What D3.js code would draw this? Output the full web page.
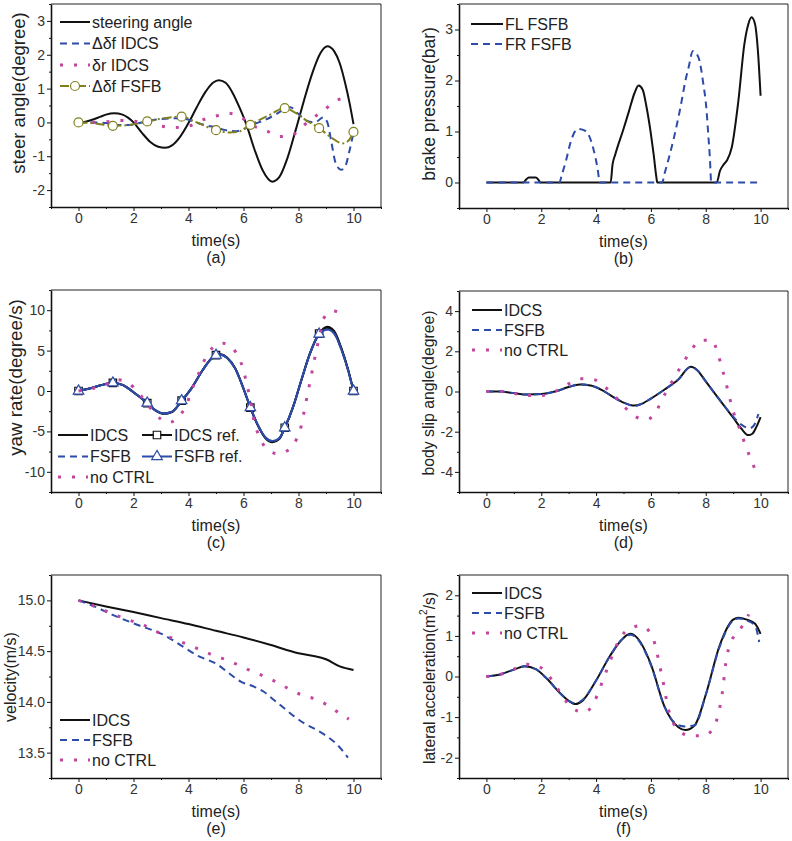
<!DOCTYPE html>
<html><head><meta charset="utf-8">
<script src="https://cdn.jsdelivr.net/npm/d3@7"></script>
<style>body{margin:0;background:#fff;} svg{display:block;font-family:"Liberation Sans",Arial,sans-serif;}</style>
</head><body><svg id="chart" width="792" height="841"></svg>
<script>
// ---------- shared ticks ----------
const xMajorTicks = [0, 2, 4, 6, 8, 10];
const xMinorTicks = [-1, 1, 3, 5, 7, 9, 11];

// ---------- (a) steer angle ----------
const steerT = [0.15,0.5,0.8,1.0,1.3,1.6,1.8,2.0,2.3,2.6,2.9,3.15,3.4,3.7,4.0,4.3,4.6,4.9,5.1,5.35,5.6,5.85,6.1,6.4,6.7,7.05,7.3,7.6,7.9,8.2,8.5,8.8,9.05,9.3,9.5,9.7,9.85,10.0];
const steerAngle = [0,0.08,0.17,0.23,0.27,0.23,0.14,0.0,-0.3,-0.57,-0.72,-0.75,-0.68,-0.42,-0.02,0.45,0.88,1.18,1.25,1.17,0.88,0.45,-0.05,-0.8,-1.42,-1.75,-1.62,-1.05,-0.22,0.65,1.45,2.05,2.25,2.1,1.75,1.15,0.6,-0.05];
const dfIdcsT = [0,0.5,1.0,1.3,1.7,2.0,2.3,2.7,3.0,3.5,3.9,4.2,4.6,5.0,5.3,5.7,6.0,6.4,6.8,7.2,7.5,7.7,8.0,8.3,8.6,8.9,9.05,9.2,9.35,9.55,9.7,9.85,10.0];
const dfIdcs = [0,0,-0.02,-0.08,-0.08,-0.06,0.0,0.07,0.1,0.12,0.1,0.02,-0.08,-0.15,-0.22,-0.26,-0.2,-0.05,0.08,0.25,0.4,0.45,0.25,0.05,0.0,0.15,0.0,-0.6,-1.2,-1.4,-1.3,-0.85,-0.3];
const drIdcsT = [0,0.5,1.0,1.5,2.0,2.5,3.0,3.5,4.0,4.5,5.0,5.45,5.9,6.3,6.8,7.3,7.75,8.1,8.5,8.9,9.3,9.7];
const drIdcs = [0,0,0.02,0.06,0.04,-0.02,-0.11,-0.15,-0.11,0.07,0.19,0.27,0.15,-0.08,-0.23,-0.42,-0.38,-0.15,0.12,0.34,0.61,0.74];
const dfFsfbT = [0,0.6,1.25,1.8,2.5,3.1,3.75,4.3,5.0,5.5,5.8,6.25,6.9,7.5,7.9,8.3,8.75,9.2,9.6,9.8,10.0];
const dfFsfb = [0,-0.03,-0.1,-0.08,0.03,0.12,0.17,0.0,-0.23,-0.3,-0.28,-0.07,0.2,0.42,0.28,0.05,-0.17,-0.45,-0.62,-0.55,-0.28];
const markerT = [0,1.25,2.5,3.75,5,6.25,7.5,8.75,10];

// ---------- (b) brake pressure ----------
const flT = [0,1.35,1.45,1.55,1.8,1.9,1.97,4.53,4.6,4.7,5.0,5.2,5.4,5.55,5.7,5.85,6.0,6.1,6.2,6.23,8.4,8.52,8.65,8.77,8.95,9.19,9.41,9.55,9.67,9.8,9.9,10.0];
const flFsfb = [0,0,0.06,0.1,0.1,0.05,0,0,0.35,0.55,1.05,1.4,1.75,1.9,1.82,1.45,0.95,0.55,0.1,0,0,0.23,0.35,0.43,0.69,1.6,2.72,3.1,3.24,3.1,2.6,1.7];
const frT = [0,2.66,2.75,2.9,3.07,3.33,3.62,3.92,4.05,4.14,6.41,6.5,6.66,6.84,7.08,7.26,7.38,7.53,7.73,7.91,8.03,8.09,8.15,8.2,10];
const frFsfb = [0,0,0.15,0.42,0.79,1.05,1.01,0.62,0.29,0,0,0.18,0.49,0.88,1.48,2.0,2.27,2.58,2.46,1.94,1.41,0.95,0.49,0,0];

// ---------- (c) yaw rate ----------
const yawT = [0,0.4,0.8,1.25,1.6,2.0,2.5,2.8,3.1,3.4,3.75,4.1,4.5,4.8,5.0,5.15,5.4,5.7,6.0,6.25,6.5,6.8,7.05,7.3,7.5,7.8,8.1,8.4,8.75,9.05,9.3,9.55,9.8,10];
const yawIdcs = [0,0.3,0.7,1.0,0.75,-0.15,-1.5,-2.4,-2.82,-2.6,-1.25,0.3,2.5,3.9,4.45,4.55,4.15,2.8,0.3,-2.05,-4.1,-5.85,-6.35,-5.95,-4.6,-2.0,1.3,4.5,7.1,7.95,7.4,5.4,2.7,0];
const yawFsfb = [0,0.3,0.7,1.0,0.75,-0.15,-1.5,-2.4,-2.78,-2.58,-1.25,0.3,2.5,3.9,4.43,4.5,4.1,2.75,0.3,-2.05,-4.05,-5.75,-6.2,-5.85,-4.55,-2.0,1.3,4.45,7.0,7.6,7.1,5.2,2.6,0];
const yawRefIdcs = [0,0.3,0.7,1.0,0.75,-0.15,-1.5,-2.4,-2.8,-2.58,-1.2,0.3,2.5,3.9,4.43,4.52,4.12,2.78,0.3,-2.05,-4.08,-5.8,-6.28,-5.9,-4.55,-2.0,1.3,4.5,7.1,7.8,7.25,5.3,2.65,0];
const yawRefFsfb = [0,0.3,0.7,1.0,0.75,-0.15,-1.5,-2.4,-2.78,-2.56,-1.2,0.3,2.5,3.9,4.43,4.48,4.08,2.74,0.3,-2.05,-4.05,-5.75,-6.2,-5.85,-4.55,-2.0,1.3,4.45,7.05,7.6,7.1,5.2,2.6,0];
const yawNoT = [0,0.5,1.0,1.4,1.83,2.17,2.5,2.8,3.28,3.66,3.94,4.1,4.3,4.48,4.7,5.03,5.25,5.44,5.8,5.98,6.1,6.21,6.3,6.4,6.55,6.77,7.24,7.61,7.94,8.1,8.2,8.3,8.4,8.5,8.6,8.7,8.8,8.9,9.25,9.75];
const yawNoCtrl = [0,0.3,0.85,1.4,0.95,-0.2,-1.6,-2.87,-3.9,-3.1,-1.6,0,1.56,3.08,4.56,5.75,5.9,5.75,4.3,2.8,1.15,-0.5,-2.1,-4.0,-5.4,-6.86,-7.76,-7.35,-5.87,-4.3,-2.6,-0.9,0.8,2.5,4.2,5.8,7.4,8.9,9.9,9.3];

// ---------- (d) body slip angle ----------
const slipT = [0,0.5,1.0,1.5,2.0,2.5,3.0,3.4,3.8,4.2,4.6,5.0,5.4,5.6,6.0,6.5,7.0,7.45,7.7,8.0,8.5,9.0,9.3,9.55,9.7,9.85,10];
const slipIdcs = [0,0.0,-0.08,-0.15,-0.13,0.0,0.22,0.35,0.3,0.08,-0.25,-0.55,-0.7,-0.65,-0.35,0.1,0.6,1.23,1.05,0.5,-0.4,-1.3,-1.85,-2.17,-2.1,-1.75,-1.27];
const slipFsfbT = [0,0.5,1.0,1.5,2.0,2.5,3.0,3.4,3.8,4.2,4.6,5.0,5.4,5.6,6.0,6.5,7.0,7.45,7.7,8.0,8.5,9.0,9.3,9.6,9.75,9.92];
const slipFsfb = [0,0.0,-0.08,-0.15,-0.13,0.0,0.22,0.36,0.3,0.08,-0.25,-0.55,-0.72,-0.65,-0.35,0.1,0.6,1.22,1.05,0.5,-0.4,-1.25,-1.65,-1.83,-1.7,-1.12];
const slipNoT = [0,0.54,1.03,1.5,2.0,2.5,2.93,3.43,3.9,4.3,4.66,5.02,5.36,5.85,6.23,6.43,6.67,6.93,7.2,7.47,7.82,8.22,8.44,8.58,8.71,8.83,8.95,9.1,9.28,9.43,9.62,9.82];
const slipNoCtrl = [0,0,-0.1,-0.2,-0.2,0,0.33,0.63,0.6,0.25,-0.2,-0.74,-1.19,-1.4,-0.89,-0.33,0.25,0.87,1.48,2.06,2.55,2.55,1.91,1.22,0.58,-0.08,-0.74,-1.4,-2.0,-2.62,-3.28,-3.95];

// ---------- (e) velocity ----------
const velT = [0,1,2,3,4,5,6,7,8,8.5,9,9.5,10];
const velIdcs = [15.0,14.94,14.885,14.825,14.767,14.70,14.635,14.56,14.48,14.455,14.42,14.35,14.315];
const velFsfbT = [0,0.5,1.22,2.13,3.1,3.77,4.3,5.04,5.53,5.9,6.38,6.74,7.1,7.47,7.83,8.2,8.68,8.98,9.4,9.8];
const velFsfb = [15.0,14.95,14.86,14.76,14.66,14.55,14.46,14.37,14.27,14.2,14.15,14.1,14.02,13.94,13.86,13.79,13.72,13.67,13.58,13.45];
const velNoT = [0,0.5,0.96,1.4,1.9,2.35,2.76,3.2,3.65,4.1,4.55,4.97,5.44,5.9,6.33,6.77,7.17,7.64,8.1,8.58,9.04,9.42,9.83];
const velNoCtrl = [15.0,14.95,14.9,14.85,14.8,14.76,14.7,14.65,14.6,14.55,14.5,14.45,14.41,14.35,14.3,14.25,14.2,14.13,14.07,14.03,13.97,13.9,13.83];

// ---------- (f) lateral acceleration ----------
const latT = [0,0.5,1.0,1.4,1.8,2.2,2.7,3.0,3.25,3.5,4.0,4.5,5.0,5.25,5.5,6.0,6.5,7.0,7.25,7.6,8.0,8.5,9.0,9.2,9.5,9.8,10];
const latIdcs = [0,0.05,0.17,0.25,0.18,-0.05,-0.42,-0.6,-0.68,-0.6,-0.1,0.5,0.95,1.05,0.95,0.3,-0.75,-1.25,-1.32,-1.2,-0.45,0.75,1.4,1.45,1.4,1.3,1.05];
const latFsfbT = [0,0.5,1.0,1.4,1.8,2.2,2.7,3.0,3.25,3.5,4.0,4.5,5.0,5.25,5.5,6.0,6.5,7.0,7.25,7.6,8.0,8.5,9.0,9.2,9.5,9.8,9.95];
const latFsfb = [0,0.05,0.17,0.25,0.18,-0.05,-0.42,-0.6,-0.66,-0.58,-0.1,0.5,0.95,1.03,0.93,0.28,-0.75,-1.2,-1.23,-1.2,-0.45,0.72,1.38,1.43,1.38,1.25,0.85];
const latNoT = [0,0.49,0.97,1.43,1.92,2.25,2.53,2.8,3.1,3.57,3.94,4.12,4.3,4.48,4.67,4.87,5.19,5.65,6.02,6.19,6.29,6.4,6.5,6.59,6.7,6.92,7.42,7.93,8.31,8.47,8.57,8.64,8.69,8.77,8.89,9.23,9.57];
const latNoCtrl = [0,0.05,0.17,0.3,0.24,0.04,-0.23,-0.5,-0.77,-0.88,-0.62,-0.32,0,0.32,0.65,0.93,1.17,1.25,1.02,0.69,0.36,0.02,-0.32,-0.66,-0.96,-1.25,-1.46,-1.46,-1.23,-0.89,-0.55,-0.22,0.12,0.48,0.81,1.13,1.53];

// ---------- styles ----------
const BLACK = "#111", BLUE = "#2d4ba8", MAG = "#c2459e", OLIVE = "#80801f";
const ST = {
  solidBlack: {stroke: BLACK, w: 2, dash: null},
  solidBlue: {stroke: BLUE, w: 2, dash: null},
  dashBlue: {stroke: BLUE, w: 2, dash: "7,5"},
  dotMag: {stroke: MAG, w: 3, dash: "3,11"},
  dashDotOlive: {stroke: OLIVE, w: 2, dash: "9,3,2,3"}
};

const svg = d3.select("#chart");
svg.append("rect").attr("width", 792).attr("height", 841).attr("fill", "#fff");

function panel(c) {
  const x = d3.scaleLinear().domain([-1, 11]).range([c.x0, c.x1]);
  const y = d3.scaleLinear().domain(c.yDomain).range([c.y1, c.y0]);
  const g = svg.append("g");
  g.append("path").attr("d", `M${c.x0},${c.y0}H${c.x1}V${c.y1}`)
    .attr("fill", "none").attr("stroke", "#222").attr("stroke-width", 1);
  const fmt = c.fmt || (d => String(d));
  g.append("g").attr("transform", `translate(0,${c.y1})`)
    .call(d3.axisBottom(x).tickValues(xMajorTicks).tickSize(4).tickSizeOuter(0).tickPadding(2).tickFormat(d => String(d)));
  g.append("g").attr("transform", `translate(0,${c.y1})`)
    .call(d3.axisBottom(x).tickValues(xMinorTicks).tickSize(2).tickFormat(""))
    .call(s => s.select(".domain").remove());
  g.append("g").attr("transform", `translate(${c.x0},0)`)
    .call(d3.axisLeft(y).tickValues(c.yMajor).tickSize(4).tickSizeOuter(0).tickPadding(2).tickFormat(fmt));
  g.append("g").attr("transform", `translate(${c.x0},0)`)
    .call(d3.axisLeft(y).tickValues(c.yMinor).tickSize(2).tickFormat(""))
    .call(s => s.select(".domain").remove());
  g.selectAll(".domain").attr("stroke", BLACK).attr("stroke-width", 1.6);
  g.selectAll(".tick line").attr("stroke", BLACK).attr("stroke-width", 1);
  g.selectAll(".tick text").attr("font-size", 14).attr("fill", "#333")
    .attr("font-family", '"Liberation Sans",Arial,sans-serif');
  g.append("text").attr("x", (c.x0 + c.x1) / 2).attr("y", c.y1 + 38.5)
    .attr("text-anchor", "middle").attr("font-size", 16).attr("fill", "#222").text("time(s)");
  g.append("text").attr("x", (c.x0 + c.x1) / 2).attr("y", c.y1 + 56)
    .attr("text-anchor", "middle").attr("font-size", 16).attr("fill", "#222").text(c.tag);
  const yt = g.append("text")
    .attr("transform", `translate(${c.yTitleX},${c.yTitleY}) rotate(-90)`)
    .attr("text-anchor", "middle").attr("dominant-baseline", "central")
    .attr("font-size", c.yTitleSize).attr("fill", "#222");
  if (c.yTitleParts) {
    c.yTitleParts.forEach(p => {
      const ts = yt.append("tspan").text(p.t);
      if (p.sup) ts.attr("font-size", c.yTitleSize * 0.65).attr("dy", -6);
      if (p.after) ts.attr("dy", 6);
    });
  } else yt.text(c.yTitle);
  return {g, x, y};
}

function series(p, ts, vs, st, curve) {
  const line = d3.line().x(d => p.x(d[0])).y(d => p.y(d[1])).curve(curve || d3.curveMonotoneX);
  const path = p.g.append("path").datum(d3.zip(ts, vs)).attr("d", line)
    .attr("fill", "none").attr("stroke", st.stroke).attr("stroke-width", st.w)
    .attr("stroke-linejoin", "round");
  if (st.dash) path.attr("stroke-dasharray", st.dash).attr("stroke-linecap", "butt");
  return path;
}

function markers(p, ts, vs, kind, color) {
  const pts = d3.zip(ts, vs).filter(d => markerT.includes(d[0]));
  const g = p.g.append("g");
  if (kind === "circle") {
    g.selectAll("circle").data(pts).join("circle")
      .attr("cx", d => p.x(d[0])).attr("cy", d => p.y(d[1])).attr("r", 4.5)
      .attr("fill", "#fff").attr("stroke", color).attr("stroke-width", 1.2);
  } else {
    const sym = kind === "square" ? d3.symbol(d3.symbolSquare, 56) : d3.symbol(d3.symbolTriangle, 48);
    g.selectAll("path").data(pts).join("path")
      .attr("transform", d => `translate(${p.x(d[0])},${p.y(d[1])})`).attr("d", sym)
      .attr("fill", "#fff").attr("stroke", color).attr("stroke-width", 1.2);
  }
}

function legend(p, items) {
  items.forEach(it => {
    const st = it.st;
    const l = p.g.append("line").attr("x1", it.x1).attr("x2", it.x2).attr("y1", it.y).attr("y2", it.y)
      .attr("stroke", st.stroke).attr("stroke-width", st.w);
    if (st.dash) l.attr("stroke-dasharray", st.dash);
    const mx = (it.x1 + it.x2) / 2;
    if (it.marker === "circle") {
      p.g.append("circle").attr("cx", mx).attr("cy", it.y).attr("r", 4.5)
        .attr("fill", "#fff").attr("stroke", st.stroke).attr("stroke-width", 1.2);
    } else if (it.marker) {
      const sym = it.marker === "square" ? d3.symbol(d3.symbolSquare, 56) : d3.symbol(d3.symbolTriangle, 48);
      p.g.append("path").attr("transform", `translate(${mx},${it.y})`).attr("d", sym)
        .attr("fill", "#fff").attr("stroke", st.stroke).attr("stroke-width", 1.2);
    }
    p.g.append("text").attr("x", it.x2 + 2).attr("y", it.y).attr("dominant-baseline", "central")
      .attr("font-size", 16).attr("fill", "#222").text(it.text);
  });
}

// ---------- panel (a) ----------
const pa = panel({x0: 51, x1: 381, y0: 4, y1: 207, yDomain: [-2.5, 3.5],
  yMajor: [-2, -1, 0, 1, 2, 3], yMinor: [-2.5, -1.5, -0.5, 0.5, 1.5, 2.5, 3.5],
  yTitle: "steer angle(degree)", yTitleX: 18, yTitleY: 93, yTitleSize: 18.5, tag: "(a)"});
series(pa, steerT, steerAngle, ST.solidBlack);
series(pa, dfIdcsT, dfIdcs, ST.dashBlue);
series(pa, drIdcsT, drIdcs, ST.dotMag);
series(pa, dfFsfbT, dfFsfb, ST.dashDotOlive);
markers(pa, dfFsfbT, dfFsfb, "circle", OLIVE);
legend(pa, [
  {x1: 60, x2: 90, y: 22, st: ST.solidBlack, text: "steering angle"},
  {x1: 60, x2: 90, y: 43.5, st: ST.dashBlue, text: "\u0394\u03b4f IDCS"},
  {x1: 60, x2: 90, y: 65, st: ST.dotMag, text: "\u03b4r IDCS"},
  {x1: 60, x2: 90, y: 86, st: ST.dashDotOlive, marker: "circle", text: "\u0394\u03b4f FSFB"}
]);

// ---------- panel (b) ----------
const pb = panel({x0: 459, x1: 788, y0: 4, y1: 208, yDomain: [-0.5, 3.5],
  yMajor: [0, 1, 2, 3], yMinor: [-0.5, 0.5, 1.5, 2.5, 3.5],
  yTitle: "brake pressure(bar)", yTitleX: 429, yTitleY: 104, yTitleSize: 17.5, tag: "(b)"});
series(pb, flT, flFsfb, ST.solidBlack);
series(pb, frT, frFsfb, ST.dashBlue);
legend(pb, [
  {x1: 471, x2: 503, y: 24, st: ST.solidBlack, text: "FL FSFB"},
  {x1: 471, x2: 503, y: 44, st: ST.dashBlue, text: "FR FSFB"}
]);

// ---------- panel (c) ----------
const pc = panel({x0: 51, x1: 381, y0: 290, y1: 492, yDomain: [-12.5, 12.5],
  yMajor: [-10, -5, 0, 5, 10], yMinor: [-12.5, -7.5, -2.5, 2.5, 7.5, 12.5],
  yTitle: "yaw rate(degree/s)", yTitleX: 15, yTitleY: 377.5, yTitleSize: 18.8, tag: "(c)"});
series(pc, yawT, yawIdcs, ST.solidBlack);
series(pc, yawT, yawRefIdcs, ST.solidBlack);
markers(pc, yawT, yawRefIdcs, "square", BLACK);
series(pc, yawT, yawFsfb, ST.dashBlue);
series(pc, yawT, yawRefFsfb, ST.solidBlue);
markers(pc, yawT, yawRefFsfb, "triangle", BLUE);
series(pc, yawNoT, yawNoCtrl, ST.dotMag);
legend(pc, [
  {x1: 58, x2: 88, y: 435, st: ST.solidBlack, text: "IDCS"},
  {x1: 58, x2: 88, y: 456.5, st: ST.dashBlue, text: "FSFB"},
  {x1: 58, x2: 88, y: 477, st: ST.dotMag, text: "no CTRL"},
  {x1: 142, x2: 172, y: 435, st: ST.solidBlack, marker: "square", text: "IDCS ref."},
  {x1: 142, x2: 172, y: 456.5, st: ST.solidBlue, marker: "triangle", text: "FSFB ref."}
]);

// ---------- panel (d) ----------
const pd = panel({x0: 459, x1: 788, y0: 291, y1: 492, yDomain: [-5, 5],
  yMajor: [-4, -2, 0, 2, 4], yMinor: [-5, -3, -1, 1, 3, 5],
  yTitle: "body slip angle(degree)", yTitleX: 428, yTitleY: 393, yTitleSize: 15.8, tag: "(d)"});
series(pd, slipT, slipIdcs, ST.solidBlack);
series(pd, slipFsfbT, slipFsfb, ST.dashBlue);
series(pd, slipNoT, slipNoCtrl, ST.dotMag);
legend(pd, [
  {x1: 472, x2: 502, y: 310, st: ST.solidBlack, text: "IDCS"},
  {x1: 472, x2: 502, y: 330, st: ST.dashBlue, text: "FSFB"},
  {x1: 472, x2: 502, y: 350, st: ST.dotMag, text: "no CTRL"}
]);

// ---------- panel (e) ----------
const pe = panel({x0: 51, x1: 381, y0: 575, y1: 778, yDomain: [13.25, 15.25],
  yMajor: [13.5, 14, 14.5, 15], yMinor: [13.25, 13.75, 14.25, 14.75, 15.25], fmt: d => d.toFixed(1),
  yTitle: "velocity(m/s)", yTitleX: 10, yTitleY: 677, yTitleSize: 16, tag: "(e)"});
series(pe, velT, velIdcs, ST.solidBlack);
series(pe, velFsfbT, velFsfb, ST.dashBlue);
series(pe, velNoT, velNoCtrl, ST.dotMag);
legend(pe, [
  {x1: 60, x2: 90, y: 720, st: ST.solidBlack, text: "IDCS"},
  {x1: 60, x2: 90, y: 740, st: ST.dashBlue, text: "FSFB"},
  {x1: 60, x2: 90, y: 760, st: ST.dotMag, text: "no CTRL"}
]);

// ---------- panel (f) ----------
const pf = panel({x0: 459, x1: 788, y0: 575, y1: 778, yDomain: [-2.5, 2.5],
  yMajor: [-2, -1, 0, 1, 2], yMinor: [-2.5, -1.5, -0.5, 0.5, 1.5, 2.5],
  yTitleParts: [{t: "lateral acceleration(m"}, {t: "2", sup: true}, {t: "/s)", after: true}],
  yTitleX: 429, yTitleY: 678, yTitleSize: 15.6, tag: "(f)"});
series(pf, latT, latIdcs, ST.solidBlack);
series(pf, latFsfbT, latFsfb, ST.dashBlue);
series(pf, latNoT, latNoCtrl, ST.dotMag);
legend(pf, [
  {x1: 472, x2: 502, y: 593, st: ST.solidBlack, text: "IDCS"},
  {x1: 472, x2: 502, y: 613, st: ST.dashBlue, text: "FSFB"},
  {x1: 472, x2: 502, y: 633, st: ST.dotMag, text: "no CTRL"}
]);
</script></body></html>
